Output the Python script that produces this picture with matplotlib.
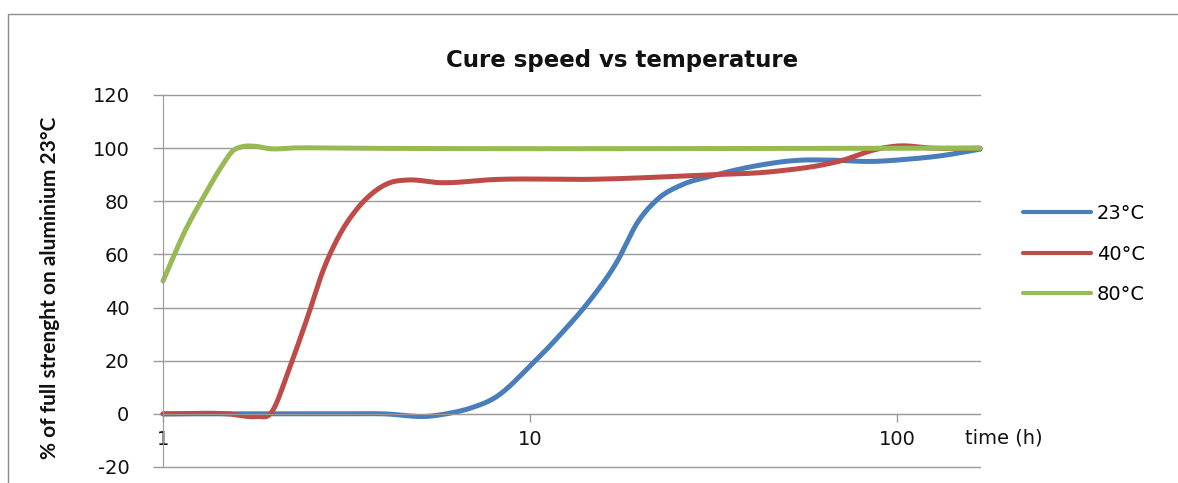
import numpy as np
import matplotlib
matplotlib.use("Agg")
import matplotlib.pyplot as plt
from matplotlib.patches import Rectangle

plt.rcParams["axes.unicode_minus"] = False

# ---- data ----
t23 = [1, 2, 3, 4, 5.3, 5.9, 7, 8, 10, 12.3, 14.6, 17.2, 19.6, 22.2, 26, 31, 40, 55, 65, 86, 106, 131, 168]
v23 = [0, 0, 0, 0, -0.9, 0, 2.5, 6, 18, 31, 43, 57, 72, 80.7, 86.3, 89.4, 93, 95.5, 95.5, 95, 95.8, 97.1, 99.6]

t40 = [1, 1.5, 1.8, 1.96, 2.22, 2.47, 2.73, 3.03, 3.37, 3.73, 4.15, 4.62, 5.7, 8, 15, 30, 46, 70, 88, 100, 125, 168]
v40 = [0, 0, -1, 0, 18, 36, 54, 67.5, 77, 83.2, 87, 88, 87, 88.2, 88.3, 89.9, 91.2, 95.2, 99.6, 100.8, 100, 100]

t80 = [1, 1.15, 1.3, 1.45, 1.55, 1.65, 1.78, 1.95, 2.3, 3, 168]
v80 = [50, 69, 82.5, 93.5, 99, 100.6, 100.7, 99.8, 100.1, 100, 100]

series_names = ["23°C", "40°C", "80°C"]
colors = ["#4A7EBB", "#BE4B48", "#98B954"]

x_ticks = [1, 10, 100]
x_ticklabels = ["1", "10", "100"]
y_ticks = [-20, 0, 20, 40, 60, 80, 100, 120]


def spline(x, y, xn):
    """Cubic Hermite spline with smooth (three-point) tangents."""
    x = np.asarray(x, float)
    y = np.asarray(y, float)
    h = np.diff(x)
    d = np.diff(y) / h
    n = len(x)
    m = np.zeros(n)
    m[0] = d[0]
    m[-1] = d[-1]
    for k in range(1, n - 1):
        m[k] = (d[k - 1] * h[k] + d[k] * h[k - 1]) / (h[k - 1] + h[k])
    idx = np.clip(np.searchsorted(x, xn) - 1, 0, n - 2)
    s = (xn - x[idx]) / h[idx]
    h00 = 2 * s**3 - 3 * s**2 + 1
    h10 = s**3 - 2 * s**2 + s
    h01 = -2 * s**3 + 3 * s**2
    h11 = s**3 - s**2
    return h00 * y[idx] + h10 * h[idx] * m[idx] + h01 * y[idx + 1] + h11 * h[idx] * m[idx + 1]


def smooth(t, v, n=800):
    lx = np.log10(t)
    grid = np.linspace(lx[0], lx[-1], n)
    return 10 ** grid, spline(lx, v, grid)


W, H = 1178, 483
fig = plt.figure(figsize=(W / 100, H / 100), dpi=100, facecolor="white")

# outer chart border (extends beyond right/bottom edge as in the screenshot)
fig.patches.append(Rectangle((7.5 / W, -0.2), 1.5, (H - 13.5) / H + 0.2,
                             transform=fig.transFigure, fill=False,
                             edgecolor="#8C8C8C", linewidth=1.0))

left, right, top, bottom = 163, 980, 95, 467
ax = fig.add_axes([left / W, 1 - bottom / H, (right - left) / W, (bottom - top) / H])

ax.set_xscale("log")
ax.set_xlim(1, 168)
ax.set_ylim(-20, 120)

grid_c = "#9A9A9A"
ax.set_yticks(y_ticks)
ax.yaxis.grid(True, color=grid_c, linewidth=1.0)
ax.set_axisbelow(True)

ax.set_xticks(x_ticks)
ax.set_xticklabels(x_ticklabels)
ax.xaxis.set_minor_locator(matplotlib.ticker.NullLocator())

for sp in ["top", "right"]:
    ax.spines[sp].set_visible(False)
ax.spines["left"].set_color(grid_c)
ax.spines["bottom"].set_position(("data", 0))
ax.spines["bottom"].set_color(grid_c)

ax.tick_params(axis="y", direction="out", length=7.2, width=1, color=grid_c,
               pad=17, labelsize=14, labelcolor="#111111")
ax.tick_params(axis="x", direction="out", length=5.5, width=1, color=grid_c,
               pad=6, labelsize=14, labelcolor="#111111")

lines = []
for (t, v), name, c in zip([(t23, v23), (t40, v40), (t80, v80)], series_names, colors):
    xs, ys = smooth(t, v)
    ln, = ax.plot(xs, ys, color=c, linewidth=3.6, solid_capstyle="round",
                  clip_on=False, label=name)
    lines.append(ln)

fig.canvas.draw()
for gl in ax.get_ygridlines():
    gl.set_clip_on(False)

ax.set_title("Cure speed vs temperature", fontsize=16.5, fontweight="bold",
             x=(622 - left) / (right - left), y=(bottom - 60) / (bottom - top),
             va="center", color="#111111", pad=0)

ax.set_ylabel("% of full strenght on aluminium 23°C", family="Lato",
              fontweight="bold", fontsize=15, color="#111111", va="center")
ax.yaxis.set_label_coords((50 - left) / (right - left), (bottom - 288) / (bottom - top))

ax.set_xlabel("time (h)", fontsize=14, color="#111111", va="center", ha="center")
ax.xaxis.set_label_coords((1004 - left) / (right - left), (bottom - 438) / (bottom - top))

leg = fig.legend(handles=lines, loc="center left",
                 bbox_to_anchor=(1023 / W, 1 - 254 / H), frameon=False,
                 fontsize=14, handlelength=3.5, handletextpad=0.3,
                 labelspacing=1.1, borderpad=0, borderaxespad=0)
for lh in leg.get_lines():
    lh.set_linewidth(3.0)

fig.savefig("out.png", dpi=100, facecolor="white")
